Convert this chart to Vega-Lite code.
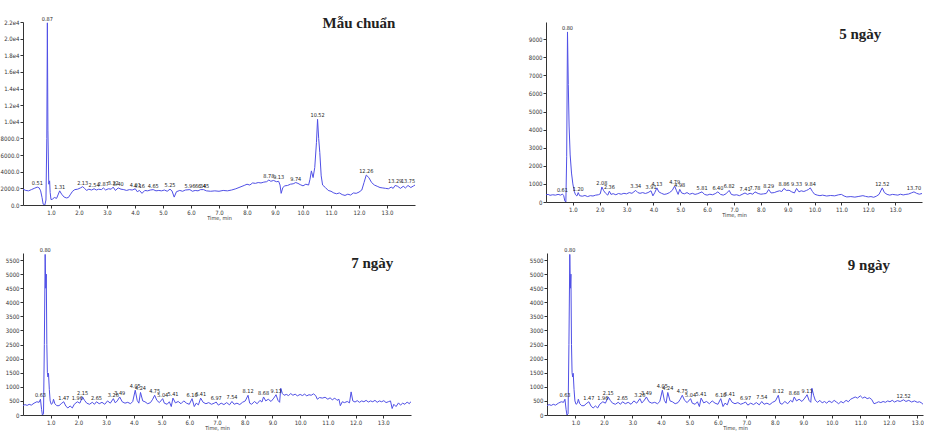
{
"$schema": "https://vega.github.io/schema/vega-lite/v6.json",
"padding": {"left": 0, "top": 15, "right": 0, "bottom": 0},
"background": "white",
"config": {
  "view": {"stroke": null},
  "axis": {"tickCount": 60, "labelFont": "Liberation Sans Narrow, DejaVu Sans Condensed, Liberation Sans", "labelFontSize": 6, "labelColor": "#333", "tickColor": "#333", "domainColor": "#333", "tickSize": 3, "grid": false, "labelPadding": 1, "labelOverlap": false, "labelFlush": false, "labelBound": false, "titleFont": "Liberation Sans Narrow, DejaVu Sans Condensed, Liberation Sans", "titleFontSize": 5.5, "titleFontWeight": "normal", "titleColor": "#333", "titlePadding": 0}
},
"datasets": {
"trace": [
{"g":"mc","t":0.00,"v":1900},{"g":"mc","t":0.10,"v":1750},{"g":"mc","t":0.20,"v":1700},{"g":"mc","t":0.30,"v":1850},{"g":"mc","t":0.40,"v":2000},{"g":"mc","t":0.51,"v":2150},{"g":"mc","t":0.58,"v":2050},{"g":"mc","t":0.63,"v":1700},{"g":"mc","t":0.68,"v":900},{"g":"mc","t":0.72,"v":100},{"g":"mc","t":0.78,"v":0},{"g":"mc","t":0.82,"v":600},{"g":"mc","t":0.85,"v":8000},{"g":"mc","t":0.87,"v":21900},{"g":"mc","t":0.89,"v":9000},{"g":"mc","t":0.92,"v":2500},{"g":"mc","t":0.95,"v":2900},{"g":"mc","t":0.97,"v":1500},{"g":"mc","t":1.00,"v":650},{"g":"mc","t":1.05,"v":700},{"g":"mc","t":1.12,"v":900},{"g":"mc","t":1.20,"v":800},{"g":"mc","t":1.31,"v":1700},{"g":"mc","t":1.38,"v":1300},{"g":"mc","t":1.47,"v":950},{"g":"mc","t":1.55,"v":850},{"g":"mc","t":1.62,"v":900},{"g":"mc","t":1.70,"v":1300},{"g":"mc","t":1.77,"v":1650},{"g":"mc","t":1.85,"v":1850},{"g":"mc","t":1.95,"v":1900},{"g":"mc","t":2.05,"v":2050},{"g":"mc","t":2.13,"v":2200},{"g":"mc","t":2.20,"v":2000},{"g":"mc","t":2.27,"v":1750},{"g":"mc","t":2.35,"v":1900},{"g":"mc","t":2.45,"v":1800},{"g":"mc","t":2.54,"v":1950},{"g":"mc","t":2.62,"v":1800},{"g":"mc","t":2.70,"v":1900},{"g":"mc","t":2.80,"v":1850},{"g":"mc","t":2.87,"v":2050},{"g":"mc","t":2.95,"v":1800},{"g":"mc","t":3.05,"v":1950},{"g":"mc","t":3.15,"v":1900},{"g":"mc","t":3.22,"v":2150},{"g":"mc","t":3.30,"v":1750},{"g":"mc","t":3.40,"v":2050},{"g":"mc","t":3.50,"v":1900},{"g":"mc","t":3.60,"v":1850},{"g":"mc","t":3.70,"v":1750},{"g":"mc","t":3.80,"v":1850},{"g":"mc","t":3.90,"v":1800},{"g":"mc","t":4.01,"v":1950},{"g":"mc","t":4.08,"v":1600},{"g":"mc","t":4.16,"v":1750},{"g":"mc","t":4.25,"v":1400},{"g":"mc","t":4.35,"v":1750},{"g":"mc","t":4.45,"v":1700},{"g":"mc","t":4.55,"v":1800},{"g":"mc","t":4.65,"v":1850},{"g":"mc","t":4.75,"v":1700},{"g":"mc","t":4.85,"v":1750},{"g":"mc","t":4.95,"v":1700},{"g":"mc","t":5.05,"v":1800},{"g":"mc","t":5.15,"v":1650},{"g":"mc","t":5.25,"v":1900},{"g":"mc","t":5.32,"v":1700},{"g":"mc","t":5.40,"v":950},{"g":"mc","t":5.48,"v":1600},{"g":"mc","t":5.60,"v":1750},{"g":"mc","t":5.70,"v":1650},{"g":"mc","t":5.80,"v":1800},{"g":"mc","t":5.96,"v":1850},{"g":"mc","t":6.05,"v":1650},{"g":"mc","t":6.15,"v":1750},{"g":"mc","t":6.25,"v":1700},{"g":"mc","t":6.34,"v":1850},{"g":"mc","t":6.45,"v":1850},{"g":"mc","t":6.55,"v":1700},{"g":"mc","t":6.70,"v":1650},{"g":"mc","t":6.85,"v":1700},{"g":"mc","t":7.00,"v":1650},{"g":"mc","t":7.15,"v":1750},{"g":"mc","t":7.30,"v":1700},{"g":"mc","t":7.45,"v":1800},{"g":"mc","t":7.60,"v":1950},{"g":"mc","t":7.75,"v":2150},{"g":"mc","t":7.90,"v":2350},{"g":"mc","t":8.00,"v":2500},{"g":"mc","t":8.10,"v":2400},{"g":"mc","t":8.20,"v":2650},{"g":"mc","t":8.30,"v":2600},{"g":"mc","t":8.40,"v":2700},{"g":"mc","t":8.50,"v":2650},{"g":"mc","t":8.60,"v":2750},{"g":"mc","t":8.70,"v":2800},{"g":"mc","t":8.78,"v":3000},{"g":"mc","t":8.85,"v":2850},{"g":"mc","t":8.95,"v":2950},{"g":"mc","t":9.05,"v":2800},{"g":"mc","t":9.13,"v":2850},{"g":"mc","t":9.18,"v":2400},{"g":"mc","t":9.22,"v":1400},{"g":"mc","t":9.28,"v":2100},{"g":"mc","t":9.35,"v":2300},{"g":"mc","t":9.45,"v":2350},{"g":"mc","t":9.55,"v":2500},{"g":"mc","t":9.65,"v":2550},{"g":"mc","t":9.74,"v":2700},{"g":"mc","t":9.82,"v":2600},{"g":"mc","t":9.90,"v":2450},{"g":"mc","t":10.00,"v":2300},{"g":"mc","t":10.10,"v":2500},{"g":"mc","t":10.20,"v":2400},{"g":"mc","t":10.25,"v":3100},{"g":"mc","t":10.30,"v":4100},{"g":"mc","t":10.36,"v":3300},{"g":"mc","t":10.42,"v":4500},{"g":"mc","t":10.48,"v":7500},{"g":"mc","t":10.52,"v":10300},{"g":"mc","t":10.56,"v":8000},{"g":"mc","t":10.60,"v":6300},{"g":"mc","t":10.65,"v":3500},{"g":"mc","t":10.70,"v":2400},{"g":"mc","t":10.80,"v":2100},{"g":"mc","t":10.90,"v":1750},{"g":"mc","t":11.00,"v":1650},{"g":"mc","t":11.10,"v":1450},{"g":"mc","t":11.20,"v":1350},{"g":"mc","t":11.30,"v":1450},{"g":"mc","t":11.40,"v":1250},{"g":"mc","t":11.50,"v":1150},{"g":"mc","t":11.60,"v":1300},{"g":"mc","t":11.70,"v":1200},{"g":"mc","t":11.80,"v":1450},{"g":"mc","t":11.90,"v":1400},{"g":"mc","t":12.00,"v":1550},{"g":"mc","t":12.10,"v":1800},{"g":"mc","t":12.18,"v":2700},{"g":"mc","t":12.26,"v":3600},{"g":"mc","t":12.35,"v":3300},{"g":"mc","t":12.45,"v":2700},{"g":"mc","t":12.55,"v":2400},{"g":"mc","t":12.65,"v":2250},{"g":"mc","t":12.75,"v":2100},{"g":"mc","t":12.85,"v":2050},{"g":"mc","t":12.95,"v":2000},{"g":"mc","t":13.05,"v":1950},{"g":"mc","t":13.15,"v":2150},{"g":"mc","t":13.22,"v":2000},{"g":"mc","t":13.29,"v":2350},{"g":"mc","t":13.38,"v":2250},{"g":"mc","t":13.48,"v":2000},{"g":"mc","t":13.58,"v":2250},{"g":"mc","t":13.66,"v":2050},{"g":"mc","t":13.75,"v":2350},{"g":"mc","t":13.85,"v":2100},{"g":"mc","t":13.95,"v":2300},{"g":"mc","t":14.00,"v":2400},
{"g":"d5","t":0.00,"v":400},{"g":"d5","t":0.08,"v":420},{"g":"d5","t":0.15,"v":370},{"g":"d5","t":0.25,"v":400},{"g":"d5","t":0.35,"v":380},{"g":"d5","t":0.45,"v":420},{"g":"d5","t":0.55,"v":380},{"g":"d5","t":0.61,"v":440},{"g":"d5","t":0.66,"v":350},{"g":"d5","t":0.70,"v":60},{"g":"d5","t":0.74,"v":0},{"g":"d5","t":0.77,"v":2500},{"g":"d5","t":0.80,"v":9400},{"g":"d5","t":0.83,"v":6500},{"g":"d5","t":0.86,"v":4200},{"g":"d5","t":0.90,"v":2600},{"g":"d5","t":0.95,"v":1600},{"g":"d5","t":1.00,"v":1000},{"g":"d5","t":1.05,"v":600},{"g":"d5","t":1.10,"v":400},{"g":"d5","t":1.15,"v":330},{"g":"d5","t":1.20,"v":520},{"g":"d5","t":1.25,"v":350},{"g":"d5","t":1.35,"v":320},{"g":"d5","t":1.45,"v":360},{"g":"d5","t":1.55,"v":300},{"g":"d5","t":1.65,"v":350},{"g":"d5","t":1.75,"v":330},{"g":"d5","t":1.85,"v":380},{"g":"d5","t":1.95,"v":400},{"g":"d5","t":2.02,"v":450},{"g":"d5","t":2.08,"v":830},{"g":"d5","t":2.15,"v":620},{"g":"d5","t":2.22,"v":480},{"g":"d5","t":2.30,"v":380},{"g":"d5","t":2.36,"v":600},{"g":"d5","t":2.42,"v":420},{"g":"d5","t":2.50,"v":460},{"g":"d5","t":2.60,"v":400},{"g":"d5","t":2.70,"v":470},{"g":"d5","t":2.80,"v":430},{"g":"d5","t":2.90,"v":480},{"g":"d5","t":3.00,"v":450},{"g":"d5","t":3.10,"v":520},{"g":"d5","t":3.20,"v":480},{"g":"d5","t":3.34,"v":640},{"g":"d5","t":3.42,"v":520},{"g":"d5","t":3.50,"v":480},{"g":"d5","t":3.60,"v":520},{"g":"d5","t":3.70,"v":470},{"g":"d5","t":3.80,"v":520},{"g":"d5","t":3.91,"v":620},{"g":"d5","t":3.98,"v":340},{"g":"d5","t":4.05,"v":520},{"g":"d5","t":4.13,"v":780},{"g":"d5","t":4.20,"v":560},{"g":"d5","t":4.30,"v":480},{"g":"d5","t":4.40,"v":420},{"g":"d5","t":4.50,"v":450},{"g":"d5","t":4.60,"v":520},{"g":"d5","t":4.70,"v":640},{"g":"d5","t":4.79,"v":880},{"g":"d5","t":4.86,"v":620},{"g":"d5","t":4.92,"v":420},{"g":"d5","t":4.98,"v":700},{"g":"d5","t":5.05,"v":500},{"g":"d5","t":5.15,"v":450},{"g":"d5","t":5.25,"v":520},{"g":"d5","t":5.35,"v":430},{"g":"d5","t":5.45,"v":480},{"g":"d5","t":5.55,"v":420},{"g":"d5","t":5.65,"v":460},{"g":"d5","t":5.81,"v":560},{"g":"d5","t":5.90,"v":420},{"g":"d5","t":6.00,"v":380},{"g":"d5","t":6.10,"v":430},{"g":"d5","t":6.20,"v":400},{"g":"d5","t":6.30,"v":460},{"g":"d5","t":6.40,"v":560},{"g":"d5","t":6.50,"v":420},{"g":"d5","t":6.60,"v":380},{"g":"d5","t":6.70,"v":450},{"g":"d5","t":6.82,"v":640},{"g":"d5","t":6.90,"v":420},{"g":"d5","t":7.00,"v":380},{"g":"d5","t":7.10,"v":400},{"g":"d5","t":7.20,"v":350},{"g":"d5","t":7.30,"v":420},{"g":"d5","t":7.41,"v":500},{"g":"d5","t":7.50,"v":420},{"g":"d5","t":7.60,"v":480},{"g":"d5","t":7.70,"v":430},{"g":"d5","t":7.78,"v":560},{"g":"d5","t":7.90,"v":470},{"g":"d5","t":8.00,"v":430},{"g":"d5","t":8.10,"v":450},{"g":"d5","t":8.20,"v":470},{"g":"d5","t":8.29,"v":690},{"g":"d5","t":8.38,"v":500},{"g":"d5","t":8.50,"v":520},{"g":"d5","t":8.60,"v":580},{"g":"d5","t":8.70,"v":620},{"g":"d5","t":8.78,"v":580},{"g":"d5","t":8.86,"v":750},{"g":"d5","t":8.95,"v":640},{"g":"d5","t":9.05,"v":650},{"g":"d5","t":9.15,"v":560},{"g":"d5","t":9.25,"v":500},{"g":"d5","t":9.33,"v":750},{"g":"d5","t":9.42,"v":560},{"g":"d5","t":9.50,"v":620},{"g":"d5","t":9.60,"v":580},{"g":"d5","t":9.70,"v":640},{"g":"d5","t":9.78,"v":700},{"g":"d5","t":9.84,"v":780},{"g":"d5","t":9.92,"v":580},{"g":"d5","t":10.00,"v":430},{"g":"d5","t":10.10,"v":380},{"g":"d5","t":10.20,"v":350},{"g":"d5","t":10.30,"v":380},{"g":"d5","t":10.45,"v":330},{"g":"d5","t":10.60,"v":360},{"g":"d5","t":10.75,"v":340},{"g":"d5","t":10.90,"v":400},{"g":"d5","t":11.00,"v":420},{"g":"d5","t":11.10,"v":330},{"g":"d5","t":11.20,"v":280},{"g":"d5","t":11.35,"v":300},{"g":"d5","t":11.50,"v":270},{"g":"d5","t":11.65,"v":310},{"g":"d5","t":11.80,"v":350},{"g":"d5","t":11.90,"v":310},{"g":"d5","t":12.00,"v":280},{"g":"d5","t":12.10,"v":300},{"g":"d5","t":12.20,"v":260},{"g":"d5","t":12.30,"v":320},{"g":"d5","t":12.40,"v":420},{"g":"d5","t":12.52,"v":780},{"g":"d5","t":12.60,"v":520},{"g":"d5","t":12.70,"v":420},{"g":"d5","t":12.80,"v":380},{"g":"d5","t":12.90,"v":420},{"g":"d5","t":13.00,"v":400},{"g":"d5","t":13.10,"v":380},{"g":"d5","t":13.20,"v":430},{"g":"d5","t":13.30,"v":390},{"g":"d5","t":13.40,"v":420},{"g":"d5","t":13.50,"v":440},{"g":"d5","t":13.60,"v":500},{"g":"d5","t":13.70,"v":560},{"g":"d5","t":13.80,"v":480},{"g":"d5","t":13.90,"v":430},{"g":"d5","t":14.00,"v":470},
{"g":"d79","t":0.00,"v":330},{"g":"d79","t":0.07,"v":370},{"g":"d79","t":0.15,"v":340},{"g":"d79","t":0.22,"v":380},{"g":"d79","t":0.30,"v":350},{"g":"d79","t":0.40,"v":420},{"g":"d79","t":0.50,"v":470},{"g":"d79","t":0.58,"v":450},{"g":"d79","t":0.63,"v":560},{"g":"d79","t":0.67,"v":200},{"g":"d79","t":0.70,"v":0},{"g":"d79","t":0.74,"v":40},{"g":"d79","t":0.77,"v":2500},{"g":"d79","t":0.80,"v":5700},{"g":"d79","t":0.82,"v":4500},{"g":"d79","t":0.84,"v":5000},{"g":"d79","t":0.86,"v":2500},{"g":"d79","t":0.88,"v":1500},{"g":"d79","t":0.90,"v":1350},{"g":"d79","t":0.92,"v":1480},{"g":"d79","t":0.95,"v":900},{"g":"d79","t":0.98,"v":500},{"g":"d79","t":1.02,"v":380},{"g":"d79","t":1.07,"v":420},{"g":"d79","t":1.10,"v":560},{"g":"d79","t":1.15,"v":400},{"g":"d79","t":1.22,"v":330},{"g":"d79","t":1.30,"v":330},{"g":"d79","t":1.40,"v":420},{"g":"d79","t":1.47,"v":470},{"g":"d79","t":1.55,"v":310},{"g":"d79","t":1.62,"v":250},{"g":"d79","t":1.70,"v":320},{"g":"d79","t":1.78,"v":250},{"g":"d79","t":1.85,"v":380},{"g":"d79","t":1.96,"v":470},{"g":"d79","t":2.05,"v":420},{"g":"d79","t":2.15,"v":640},{"g":"d79","t":2.22,"v":520},{"g":"d79","t":2.30,"v":420},{"g":"d79","t":2.40,"v":380},{"g":"d79","t":2.50,"v":450},{"g":"d79","t":2.58,"v":380},{"g":"d79","t":2.65,"v":470},{"g":"d79","t":2.75,"v":400},{"g":"d79","t":2.85,"v":450},{"g":"d79","t":2.95,"v":380},{"g":"d79","t":3.05,"v":500},{"g":"d79","t":3.15,"v":420},{"g":"d79","t":3.26,"v":580},{"g":"d79","t":3.33,"v":430},{"g":"d79","t":3.40,"v":500},{"g":"d79","t":3.49,"v":640},{"g":"d79","t":3.58,"v":470},{"g":"d79","t":3.68,"v":420},{"g":"d79","t":3.78,"v":450},{"g":"d79","t":3.88,"v":400},{"g":"d79","t":3.96,"v":480},{"g":"d79","t":4.05,"v":880},{"g":"d79","t":4.12,"v":520},{"g":"d79","t":4.18,"v":420},{"g":"d79","t":4.24,"v":800},{"g":"d79","t":4.32,"v":500},{"g":"d79","t":4.40,"v":470},{"g":"d79","t":4.50,"v":400},{"g":"d79","t":4.60,"v":440},{"g":"d79","t":4.68,"v":560},{"g":"d79","t":4.75,"v":700},{"g":"d79","t":4.83,"v":520},{"g":"d79","t":4.92,"v":440},{"g":"d79","t":5.04,"v":580},{"g":"d79","t":5.10,"v":420},{"g":"d79","t":5.20,"v":380},{"g":"d79","t":5.28,"v":470},{"g":"d79","t":5.35,"v":300},{"g":"d79","t":5.41,"v":600},{"g":"d79","t":5.50,"v":430},{"g":"d79","t":5.60,"v":480},{"g":"d79","t":5.70,"v":400},{"g":"d79","t":5.80,"v":500},{"g":"d79","t":5.90,"v":420},{"g":"d79","t":6.00,"v":380},{"g":"d79","t":6.10,"v":580},{"g":"d79","t":6.18,"v":300},{"g":"d79","t":6.25,"v":420},{"g":"d79","t":6.33,"v":360},{"g":"d79","t":6.41,"v":600},{"g":"d79","t":6.50,"v":450},{"g":"d79","t":6.60,"v":400},{"g":"d79","t":6.70,"v":440},{"g":"d79","t":6.80,"v":380},{"g":"d79","t":6.90,"v":420},{"g":"d79","t":6.97,"v":460},{"g":"d79","t":7.05,"v":350},{"g":"d79","t":7.15,"v":420},{"g":"d79","t":7.25,"v":370},{"g":"d79","t":7.35,"v":440},{"g":"d79","t":7.45,"v":360},{"g":"d79","t":7.54,"v":480},{"g":"d79","t":7.62,"v":380},{"g":"d79","t":7.72,"v":420},{"g":"d79","t":7.82,"v":370},{"g":"d79","t":7.92,"v":450},{"g":"d79","t":8.02,"v":500},{"g":"d79","t":8.12,"v":700},{"g":"d79","t":8.18,"v":420},{"g":"d79","t":8.25,"v":380},{"g":"d79","t":8.35,"v":480},{"g":"d79","t":8.45,"v":400},{"g":"d79","t":8.55,"v":520},{"g":"d79","t":8.62,"v":460},{"g":"d79","t":8.68,"v":640},{"g":"d79","t":8.76,"v":500},{"g":"d79","t":8.85,"v":560},{"g":"d79","t":8.95,"v":480},{"g":"d79","t":9.05,"v":600},{"g":"d79","t":9.13,"v":720},{"g":"d79","t":9.20,"v":520},{"g":"d79","t":9.26,"v":450},{"g":"d79","t":9.30,"v":950},
{"g":"d7","t":9.36,"v":760},{"g":"d7","t":9.42,"v":700},{"g":"d7","t":9.50,"v":730},{"g":"d7","t":9.58,"v":690},{"g":"d7","t":9.66,"v":760},{"g":"d7","t":9.74,"v":700},{"g":"d7","t":9.82,"v":740},{"g":"d7","t":9.90,"v":680},{"g":"d7","t":10.00,"v":730},{"g":"d7","t":10.08,"v":690},{"g":"d7","t":10.16,"v":740},{"g":"d7","t":10.24,"v":680},{"g":"d7","t":10.32,"v":720},{"g":"d7","t":10.40,"v":700},{"g":"d7","t":10.48,"v":750},{"g":"d7","t":10.56,"v":690},{"g":"d7","t":10.62,"v":560},{"g":"d7","t":10.70,"v":620},{"g":"d7","t":10.80,"v":600},{"g":"d7","t":10.90,"v":630},{"g":"d7","t":11.00,"v":560},{"g":"d7","t":11.08,"v":610},{"g":"d7","t":11.16,"v":540},{"g":"d7","t":11.25,"v":600},{"g":"d7","t":11.33,"v":520},{"g":"d7","t":11.40,"v":560},{"g":"d7","t":11.45,"v":330},{"g":"d7","t":11.52,"v":470},{"g":"d7","t":11.60,"v":440},{"g":"d7","t":11.70,"v":480},{"g":"d7","t":11.78,"v":430},{"g":"d7","t":11.84,"v":820},{"g":"d7","t":11.90,"v":500},{"g":"d7","t":11.98,"v":460},{"g":"d7","t":12.06,"v":510},{"g":"d7","t":12.14,"v":450},{"g":"d7","t":12.22,"v":500},{"g":"d7","t":12.30,"v":470},{"g":"d7","t":12.38,"v":520},{"g":"d7","t":12.46,"v":460},{"g":"d7","t":12.54,"v":500},{"g":"d7","t":12.62,"v":470},{"g":"d7","t":12.70,"v":520},{"g":"d7","t":12.78,"v":450},{"g":"d7","t":12.86,"v":500},{"g":"d7","t":12.94,"v":470},{"g":"d7","t":13.02,"v":510},{"g":"d7","t":13.10,"v":440},{"g":"d7","t":13.18,"v":470},{"g":"d7","t":13.26,"v":500},{"g":"d7","t":13.32,"v":230},{"g":"d7","t":13.38,"v":380},{"g":"d7","t":13.46,"v":300},{"g":"d7","t":13.55,"v":430},{"g":"d7","t":13.62,"v":350},{"g":"d7","t":13.70,"v":420},{"g":"d7","t":13.78,"v":380},{"g":"d7","t":13.86,"v":460},{"g":"d7","t":13.94,"v":400},{"g":"d7","t":14.00,"v":480},
{"g":"d9","t":9.36,"v":700},{"g":"d9","t":9.42,"v":520},{"g":"d9","t":9.50,"v":450},{"g":"d9","t":9.58,"v":520},{"g":"d9","t":9.66,"v":430},{"g":"d9","t":9.74,"v":480},{"g":"d9","t":9.82,"v":420},{"g":"d9","t":9.90,"v":500},{"g":"d9","t":10.00,"v":440},{"g":"d9","t":10.08,"v":520},{"g":"d9","t":10.16,"v":460},{"g":"d9","t":10.24,"v":400},{"g":"d9","t":10.32,"v":480},{"g":"d9","t":10.40,"v":430},{"g":"d9","t":10.50,"v":520},{"g":"d9","t":10.58,"v":470},{"g":"d9","t":10.66,"v":560},{"g":"d9","t":10.74,"v":600},{"g":"d9","t":10.82,"v":640},{"g":"d9","t":10.90,"v":600},{"g":"d9","t":11.00,"v":680},{"g":"d9","t":11.08,"v":600},{"g":"d9","t":11.16,"v":640},{"g":"d9","t":11.24,"v":580},{"g":"d9","t":11.32,"v":610},{"g":"d9","t":11.40,"v":550},{"g":"d9","t":11.48,"v":400},{"g":"d9","t":11.56,"v":430},{"g":"d9","t":11.64,"v":470},{"g":"d9","t":11.72,"v":440},{"g":"d9","t":11.80,"v":480},{"g":"d9","t":11.88,"v":450},{"g":"d9","t":11.96,"v":500},{"g":"d9","t":12.04,"v":470},{"g":"d9","t":12.12,"v":520},{"g":"d9","t":12.20,"v":460},{"g":"d9","t":12.30,"v":510},{"g":"d9","t":12.40,"v":480},{"g":"d9","t":12.52,"v":540},{"g":"d9","t":12.60,"v":480},{"g":"d9","t":12.70,"v":520},{"g":"d9","t":12.80,"v":460},{"g":"d9","t":12.90,"v":500},{"g":"d9","t":13.00,"v":450},{"g":"d9","t":13.08,"v":470},{"g":"d9","t":13.16,"v":420},{"g":"d9","t":13.20,"v":380}
],
"peaks": [
{"g":"mc","t":0.51,"v":2150},{"g":"mc","t":0.87,"v":21900},{"g":"mc","t":1.31,"v":1700},{"g":"mc","t":2.13,"v":2200},{"g":"mc","t":2.54,"v":1950},{"g":"mc","t":2.87,"v":2050},{"g":"mc","t":3.22,"v":2150},{"g":"mc","t":3.40,"v":2050},{"g":"mc","t":4.01,"v":1950},{"g":"mc","t":4.16,"v":1750},{"g":"mc","t":4.65,"v":1850},{"g":"mc","t":5.25,"v":1900},{"g":"mc","t":5.96,"v":1850},{"g":"mc","t":6.34,"v":1850},{"g":"mc","t":6.45,"v":1850},{"g":"mc","t":8.78,"v":3000},{"g":"mc","t":9.13,"v":2850},{"g":"mc","t":9.74,"v":2700},{"g":"mc","t":10.52,"v":10300},{"g":"mc","t":12.26,"v":3600},{"g":"mc","t":13.29,"v":2350},{"g":"mc","t":13.75,"v":2350},
{"g":"d5","t":0.61,"v":440},{"g":"d5","t":0.80,"v":9400},{"g":"d5","t":1.20,"v":520},{"g":"d5","t":2.08,"v":830},{"g":"d5","t":2.36,"v":600},{"g":"d5","t":3.34,"v":640},{"g":"d5","t":3.91,"v":620},{"g":"d5","t":4.13,"v":780},{"g":"d5","t":4.79,"v":880},{"g":"d5","t":4.98,"v":700},{"g":"d5","t":5.81,"v":560},{"g":"d5","t":6.40,"v":560},{"g":"d5","t":6.82,"v":640},{"g":"d5","t":7.41,"v":500},{"g":"d5","t":7.78,"v":560},{"g":"d5","t":8.29,"v":690},{"g":"d5","t":8.86,"v":750},{"g":"d5","t":9.33,"v":750},{"g":"d5","t":9.84,"v":780},{"g":"d5","t":12.52,"v":780},{"g":"d5","t":13.70,"v":560},
{"g":"d79","t":0.63,"v":560},{"g":"d79","t":0.80,"v":5700},{"g":"d79","t":1.47,"v":470},{"g":"d79","t":1.96,"v":470},{"g":"d79","t":2.15,"v":640},{"g":"d79","t":2.65,"v":470},{"g":"d79","t":3.26,"v":580},{"g":"d79","t":3.49,"v":640},{"g":"d79","t":4.05,"v":880},{"g":"d79","t":4.24,"v":800},{"g":"d79","t":4.75,"v":700},{"g":"d79","t":5.04,"v":580},{"g":"d79","t":5.41,"v":600},{"g":"d79","t":6.10,"v":580},{"g":"d79","t":6.41,"v":600},{"g":"d79","t":6.97,"v":460},{"g":"d79","t":7.54,"v":480},{"g":"d79","t":8.12,"v":700},{"g":"d79","t":8.68,"v":640},{"g":"d79","t":9.13,"v":720},
{"g":"d9","t":12.52,"v":540}
]
},
"spacing": 27,
"vconcat": [
{"hconcat": [
{"width": 392, "height": 183, "layer": [
 {"data": {"name": "trace"}, "transform": [{"filter": "datum.g == 'mc'"}], "mark": {"type": "line", "color": "#5050e6", "strokeWidth": 1, "clip": true},
  "encoding": {"x": {"field": "t", "type": "quantitative", "scale": {"domain": [0, 14], "nice": false, "zero": false}, "axis": {"values": [1,2,3,4,5,6,7,8,9,10,11,12,13], "tickCount": 60, "labelOverlap": false, "format": ".1f", "title": "Time, min"}},
   "y": {"field": "v", "type": "quantitative", "scale": {"domain": [0, 22000], "nice": false}, "axis": {"title": null, "tickCount": 60, "labelOverlap": false, "values": [0,2000,4000,6000,8000,10000,12000,14000,16000,18000,20000,22000], "labelExpr": "datum.value >= 10000 ? replace(format(datum.value, '.1e'), 'e+', 'e') : format(datum.value, '.1f')"}}}},
 {"data": {"name": "peaks"}, "transform": [{"filter": "datum.g == 'mc'"}], "mark": {"type": "text", "fontSize": 5.5, "font": "Liberation Sans Narrow, DejaVu Sans Condensed, Liberation Sans", "baseline": "bottom", "dy": -1, "color": "#222"},
  "encoding": {"x": {"field": "t", "type": "quantitative"}, "y": {"field": "v", "type": "quantitative"}, "text": {"field": "t", "type": "quantitative", "format": ".2f"}}},
 {"data": {"values": [{"name": "Mẫu chuẩn"}]}, "mark": {"type": "text", "font": "Liberation Serif", "fontSize": 15, "fontWeight": "bold", "color": "#222"},
  "encoding": {"x": {"datum": 12.0}, "y": {"datum": 21900}, "text": {"field": "name"}}}
]},
{"width": 376, "height": 180, "layer": [
 {"data": {"name": "trace"}, "transform": [{"filter": "datum.g == 'd5'"}], "mark": {"type": "line", "color": "#5050e6", "strokeWidth": 1, "clip": true},
  "encoding": {"x": {"field": "t", "type": "quantitative", "scale": {"domain": [0, 14], "nice": false, "zero": false}, "axis": {"values": [1,2,3,4,5,6,7,8,9,10,11,12,13], "tickCount": 60, "labelOverlap": false, "format": ".1f", "title": "Time, min"}},
   "y": {"field": "v", "type": "quantitative", "scale": {"domain": [0, 9950], "nice": false}, "axis": {"title": null, "tickCount": 60, "labelOverlap": false, "values": [0,1000,2000,3000,4000,5000,6000,7000,8000,9000], "format": "d"}}}},
 {"data": {"name": "peaks"}, "transform": [{"filter": "datum.g == 'd5'"}], "mark": {"type": "text", "fontSize": 5.5, "font": "Liberation Sans Narrow, DejaVu Sans Condensed, Liberation Sans", "baseline": "bottom", "dy": -1, "color": "#222"},
  "encoding": {"x": {"field": "t", "type": "quantitative"}, "y": {"field": "v", "type": "quantitative"}, "text": {"field": "t", "type": "quantitative", "format": ".2f"}}},
 {"data": {"values": [{"name": "5 ngày"}]}, "mark": {"type": "text", "font": "Liberation Serif", "fontSize": 15, "fontWeight": "bold", "color": "#222"},
  "encoding": {"x": {"datum": 11.7}, "y": {"datum": 9300}, "text": {"field": "name"}}}
]}
], "spacing": 112},
{"hconcat": [
{"width": 388, "height": 162, "layer": [
 {"data": {"name": "trace"}, "transform": [{"filter": "datum.g == 'd79' || datum.g == 'd7'"}], "mark": {"type": "line", "color": "#5050e6", "strokeWidth": 1, "clip": true},
  "encoding": {"x": {"field": "t", "type": "quantitative", "scale": {"domain": [0, 14], "nice": false, "zero": false}, "axis": {"values": [1,2,3,4,5,6,7,8,9,10,11,12,13], "tickCount": 60, "labelOverlap": false, "format": ".1f", "title": "Time, min"}},
   "y": {"field": "v", "type": "quantitative", "scale": {"domain": [0, 5750], "nice": false}, "axis": {"title": null, "tickCount": 60, "labelOverlap": false, "values": [0,500,1000,1500,2000,2500,3000,3500,4000,4500,5000,5500], "format": "d"}}}},
 {"data": {"name": "peaks"}, "transform": [{"filter": "datum.g == 'd79'"}], "mark": {"type": "text", "fontSize": 5.5, "font": "Liberation Sans Narrow, DejaVu Sans Condensed, Liberation Sans", "baseline": "bottom", "dy": -1, "color": "#222"},
  "encoding": {"x": {"field": "t", "type": "quantitative"}, "y": {"field": "v", "type": "quantitative"}, "text": {"field": "t", "type": "quantitative", "format": ".2f"}}},
 {"data": {"values": [{"name": "7 ngày"}]}, "mark": {"type": "text", "font": "Liberation Serif", "fontSize": 15, "fontWeight": "bold", "color": "#222"},
  "encoding": {"x": {"datum": 12.6}, "y": {"datum": 5400}, "text": {"field": "name"}}}
]},
{"width": 376, "height": 162, "layer": [
 {"data": {"name": "trace"}, "transform": [{"filter": "datum.g == 'd79' || datum.g == 'd9'"}], "mark": {"type": "line", "color": "#5050e6", "strokeWidth": 1, "clip": true},
  "encoding": {"x": {"field": "t", "type": "quantitative", "scale": {"domain": [0, 13.2], "nice": false, "zero": false}, "axis": {"values": [1,2,3,4,5,6,7,8,9,10,11,12,13], "tickCount": 60, "labelOverlap": false, "format": ".1f", "title": "Time, min"}},
   "y": {"field": "v", "type": "quantitative", "scale": {"domain": [0, 5750], "nice": false}, "axis": {"title": null, "tickCount": 60, "labelOverlap": false, "values": [0,500,1000,1500,2000,2500,3000,3500,4000,4500,5000,5500], "format": "d"}}}},
 {"data": {"name": "peaks"}, "transform": [{"filter": "datum.g == 'd79' || datum.g == 'd9'"}], "mark": {"type": "text", "fontSize": 5.5, "font": "Liberation Sans Narrow, DejaVu Sans Condensed, Liberation Sans", "baseline": "bottom", "dy": -1, "color": "#222"},
  "encoding": {"x": {"field": "t", "type": "quantitative"}, "y": {"field": "v", "type": "quantitative"}, "text": {"field": "t", "type": "quantitative", "format": ".2f"}}},
 {"data": {"values": [{"name": "9 ngày"}]}, "mark": {"type": "text", "font": "Liberation Serif", "fontSize": 15, "fontWeight": "bold", "color": "#222"},
  "encoding": {"x": {"datum": 11.3}, "y": {"datum": 5330}, "text": {"field": "name"}}}
]}
], "spacing": 118}
]
}
